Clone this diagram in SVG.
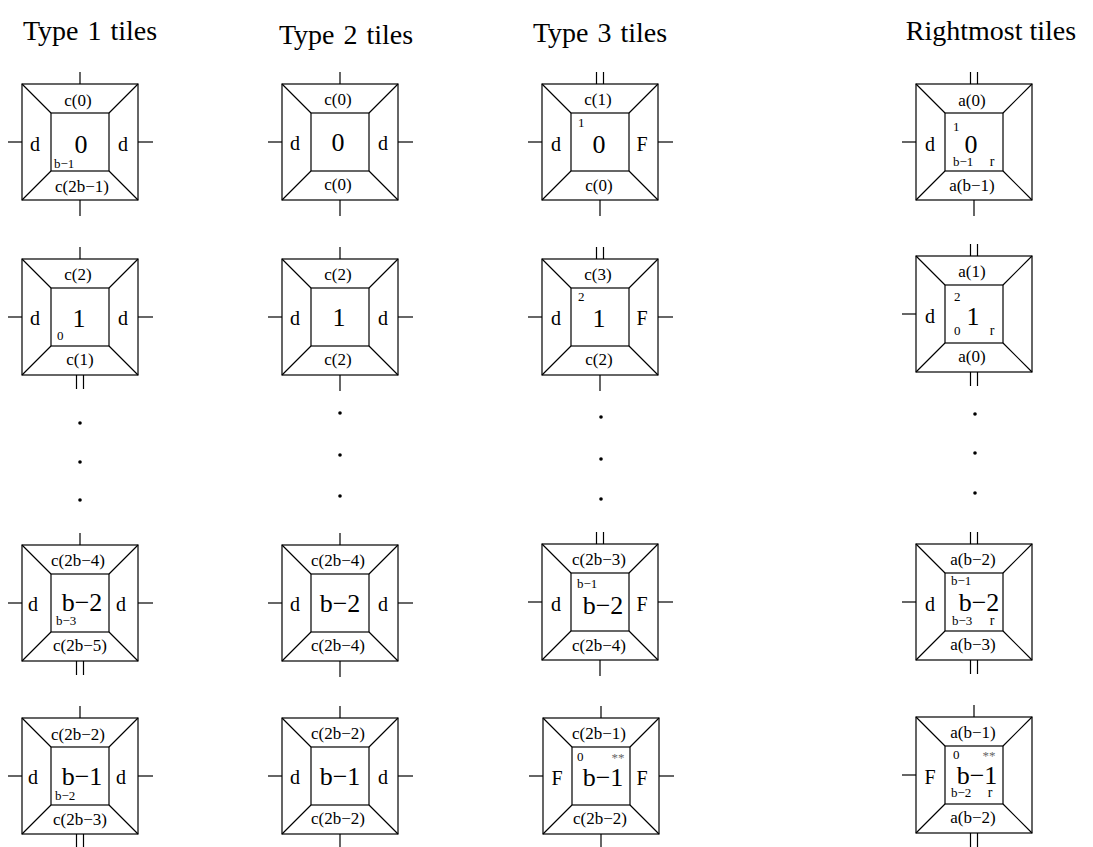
<svg xmlns="http://www.w3.org/2000/svg" xmlns:xlink="http://www.w3.org/1999/xlink" width="1093" height="847" viewBox="0 0 1093 847">
  <style>
    .ln { fill: none; stroke: #000; stroke-width: 1.2; }
    text { font-family: "Liberation Serif", "Times New Roman", serif; fill: #000; }
    .title { font-size: 28px; text-anchor: middle; }
    .wide { word-spacing: 2px; }
    .edge { font-size: 17px; text-anchor: middle; }
    .side { font-size: 20px; text-anchor: middle; }
    .big { font-size: 26px; text-anchor: middle; }
    .sm { font-size: 13px; }
    .r { font-size: 14px; text-anchor: middle; }
    .ast { font-size: 13px; text-anchor: middle; fill: #666; }
    .dot { fill: #000; }
  </style>
  <defs>
    <!-- tile frame: outer square, inner square, corner diagonals -->
    <g id="frame" class="ln">
      <rect x="-58" y="-58" width="116" height="116"/>
      <rect x="-29" y="-29" width="58" height="58"/>
      <path d="M-58,-58 L-29,-29 M58,-58 L29,-29 M-58,58 L-29,29 M58,58 L29,29"/>
    </g>
    <!-- glue stubs -->
    <path id="t1" class="ln" d="M0,-58 V-70"/>
    <path id="t2" class="ln" d="M-3.5,-58 V-70 M3.5,-58 V-70"/>
    <path id="b1" class="ln" d="M0,58 V74"/>
    <path id="b2" class="ln" d="M-3.5,58 V72 M3.5,58 V72"/>
    <path id="l1" class="ln" d="M-58,0 H-72"/>
    <path id="r1" class="ln" d="M58,0 H73"/>
  </defs>

  <!-- column headings -->
  <text class="title wide" x="90" y="40">Type 1 tiles</text>
  <text class="title wide" x="346" y="44">Type 2 tiles</text>
  <text class="title wide" x="600" y="42">Type 3 tiles</text>
  <text class="title" x="991" y="40">Rightmost tiles</text>

  <!-- ===== Type 1 column ===== -->
  <g id="t1-0" transform="translate(80,142)">
    <use xlink:href="#frame"/><use xlink:href="#t1"/><use xlink:href="#b1"/><use xlink:href="#l1"/><use xlink:href="#r1"/>
    <text class="edge" x="-2" y="-36">c(0)</text>
    <text class="edge" x="2" y="50">c(2b−1)</text>
    <text class="side" x="-45" y="9">d</text>
    <text class="side" x="43" y="9">d</text>
    <text class="big" x="1" y="11">0</text>
    <text class="sm" x="-26" y="26">b−1</text>
  </g>
  <g id="t1-1" transform="translate(80,317)">
    <use xlink:href="#frame"/><use xlink:href="#t1"/><use xlink:href="#b2"/><use xlink:href="#l1"/><use xlink:href="#r1"/>
    <text class="edge" x="-2" y="-37">c(2)</text>
    <text class="edge" x="0" y="48">c(1)</text>
    <text class="side" x="-45" y="8">d</text>
    <text class="side" x="43" y="8">d</text>
    <text class="big" x="-1" y="10">1</text>
    <text class="sm" x="-23" y="23">0</text>
  </g>
  <g id="t1-dots">
    <circle class="dot" cx="80" cy="423" r="1.8"/>
    <circle class="dot" cx="80" cy="462" r="1.8"/>
    <circle class="dot" cx="80" cy="500" r="1.8"/>
  </g>
  <g id="t1-b2" transform="translate(80,603)">
    <use xlink:href="#frame"/><use xlink:href="#t1"/><use xlink:href="#b2"/><use xlink:href="#l1"/><use xlink:href="#r1"/>
    <text class="edge" x="-2" y="-37">c(2b−4)</text>
    <text class="edge" x="0" y="48">c(2b−5)</text>
    <text class="side" x="-47" y="8">d</text>
    <text class="side" x="41" y="8">d</text>
    <text class="big" x="2" y="8">b−2</text>
    <text class="sm" x="-24" y="22">b−3</text>
  </g>
  <g id="t1-b1" transform="translate(80,776)">
    <use xlink:href="#frame"/><use xlink:href="#t1"/><use xlink:href="#b2"/><use xlink:href="#l1"/><use xlink:href="#r1"/>
    <text class="edge" x="-2" y="-36">c(2b−2)</text>
    <text class="edge" x="0" y="49">c(2b−3)</text>
    <text class="side" x="-47" y="8">d</text>
    <text class="side" x="41" y="8">d</text>
    <text class="big" x="2" y="9">b−1</text>
    <text class="sm" x="-25" y="24">b−2</text>
  </g>

  <!-- ===== Type 2 column ===== -->
  <g id="t2-0" transform="translate(340,142)">
    <use xlink:href="#frame"/><use xlink:href="#t1"/><use xlink:href="#b1"/><use xlink:href="#l1"/><use xlink:href="#r1"/>
    <text class="edge" x="-2" y="-37">c(0)</text>
    <text class="edge" x="-2" y="48">c(0)</text>
    <text class="side" x="-45" y="8">d</text>
    <text class="side" x="43" y="8">d</text>
    <text class="big" x="-2" y="9">0</text>
  </g>
  <g id="t2-1" transform="translate(340,317)">
    <use xlink:href="#frame"/><use xlink:href="#t1"/><use xlink:href="#b1"/><use xlink:href="#l1"/><use xlink:href="#r1"/>
    <text class="edge" x="-2" y="-37">c(2)</text>
    <text class="edge" x="-2" y="48">c(2)</text>
    <text class="side" x="-45" y="8">d</text>
    <text class="side" x="43" y="8">d</text>
    <text class="big" x="-1" y="9">1</text>
  </g>
  <g id="t2-dots">
    <circle class="dot" cx="340" cy="413" r="1.8"/>
    <circle class="dot" cx="340" cy="455" r="1.8"/>
    <circle class="dot" cx="340" cy="496" r="1.8"/>
  </g>
  <g id="t2-b2" transform="translate(340,603)">
    <use xlink:href="#frame"/><use xlink:href="#t1"/><use xlink:href="#b1"/><use xlink:href="#l1"/><use xlink:href="#r1"/>
    <text class="edge" x="-2" y="-37">c(2b−4)</text>
    <text class="edge" x="-2" y="48">c(2b−4)</text>
    <text class="side" x="-45" y="8">d</text>
    <text class="side" x="43" y="8">d</text>
    <text class="big" x="0" y="9">b−2</text>
  </g>
  <g id="t2-b1" transform="translate(340,776)">
    <use xlink:href="#frame"/><use xlink:href="#t1"/><use xlink:href="#b1"/><use xlink:href="#l1"/><use xlink:href="#r1"/>
    <text class="edge" x="-2" y="-37">c(2b−2)</text>
    <text class="edge" x="-2" y="48">c(2b−2)</text>
    <text class="side" x="-45" y="8">d</text>
    <text class="side" x="43" y="8">d</text>
    <text class="big" x="0" y="9">b−1</text>
  </g>

  <!-- ===== Type 3 column ===== -->
  <g id="t3-0" transform="translate(600,142)">
    <use xlink:href="#frame"/><use xlink:href="#t2"/><use xlink:href="#b1"/><use xlink:href="#l1"/><use xlink:href="#r1"/>
    <text class="edge" x="-2" y="-37">c(1)</text>
    <text class="edge" x="-1" y="49">c(0)</text>
    <text class="side" x="-44" y="9">d</text>
    <text class="side" x="42" y="9">F</text>
    <text class="big" x="-1" y="11">0</text>
    <text class="sm" x="-22" y="-15">1</text>
  </g>
  <g id="t3-1" transform="translate(600,317)">
    <use xlink:href="#frame"/><use xlink:href="#t2"/><use xlink:href="#b1"/><use xlink:href="#l1"/><use xlink:href="#r1"/>
    <text class="edge" x="-2" y="-37">c(3)</text>
    <text class="edge" x="-1" y="48">c(2)</text>
    <text class="side" x="-44" y="8">d</text>
    <text class="side" x="42" y="8">F</text>
    <text class="big" x="-1" y="10">1</text>
    <text class="sm" x="-22" y="-16">2</text>
  </g>
  <g id="t3-dots">
    <circle class="dot" cx="601" cy="417" r="1.8"/>
    <circle class="dot" cx="601" cy="459" r="1.8"/>
    <circle class="dot" cx="601" cy="499" r="1.8"/>
  </g>
  <g id="t3-b2" transform="translate(600,602)">
    <use xlink:href="#frame"/><use xlink:href="#t2"/><use xlink:href="#b1"/><use xlink:href="#l1"/><use xlink:href="#r1"/>
    <text class="edge" x="-1" y="-37">c(2b−3)</text>
    <text class="edge" x="-1" y="49">c(2b−4)</text>
    <text class="side" x="-44" y="9">d</text>
    <text class="side" x="42" y="9">F</text>
    <text class="big" x="3" y="12">b−2</text>
    <text class="sm" x="-23" y="-14">b−1</text>
  </g>
  <g id="t3-b1" transform="translate(601,776)">
    <use xlink:href="#frame"/><use xlink:href="#t1"/><use xlink:href="#b1"/><use xlink:href="#l1"/><use xlink:href="#r1"/>
    <text class="edge" x="-2" y="-37">c(2b−1)</text>
    <text class="edge" x="-1" y="48">c(2b−2)</text>
    <text class="side" x="-44" y="9">F</text>
    <text class="side" x="41" y="9">F</text>
    <text class="big" x="2" y="10">b−1</text>
    <text class="sm" x="-24" y="-15">0</text>
    <text class="ast" x="17" y="-14">**</text>
  </g>

  <!-- ===== Rightmost column ===== -->
  <g id="r-0" transform="translate(974,142)">
    <use xlink:href="#frame"/><use xlink:href="#t2"/><use xlink:href="#b1"/><use xlink:href="#l1"/>
    <text class="edge" x="-2" y="-36">a(0)</text>
    <text class="edge" x="-2" y="49">a(b−1)</text>
    <text class="side" x="-44" y="9">d</text>
    <text class="big" x="-3" y="11">0</text>
    <text class="sm" x="-21" y="-11">1</text>
    <text class="sm" x="-21" y="24">b−1</text>
    <text class="r" x="18" y="24">r</text>
  </g>
  <g id="r-1" transform="translate(974,314)">
    <use xlink:href="#frame"/><use xlink:href="#t2"/><use xlink:href="#b2"/><use xlink:href="#l1"/>
    <text class="edge" x="-2" y="-37">a(1)</text>
    <text class="edge" x="-2" y="48">a(0)</text>
    <text class="side" x="-44" y="9">d</text>
    <text class="big" x="-1" y="11">1</text>
    <text class="sm" x="-20" y="-13">2</text>
    <text class="sm" x="-20" y="21">0</text>
    <text class="r" x="18" y="21">r</text>
  </g>
  <g id="r-dots">
    <circle class="dot" cx="975" cy="414" r="1.8"/>
    <circle class="dot" cx="975" cy="453" r="1.8"/>
    <circle class="dot" cx="975" cy="493" r="1.8"/>
  </g>
  <g id="r-b2" transform="translate(974,602)">
    <use xlink:href="#frame"/><use xlink:href="#t2"/><use xlink:href="#b2"/><use xlink:href="#l1"/>
    <text class="edge" x="-1" y="-37">a(b−2)</text>
    <text class="edge" x="-1" y="48">a(b−3)</text>
    <text class="side" x="-44" y="9">d</text>
    <text class="big" x="5" y="9">b−2</text>
    <text class="sm" x="-23" y="-17">b−1</text>
    <text class="sm" x="-22" y="23">b−3</text>
    <text class="r" x="18" y="23">r</text>
  </g>
  <g id="r-b1" transform="translate(974,775)">
    <use xlink:href="#frame"/><use xlink:href="#t1"/><use xlink:href="#b2"/><use xlink:href="#l1"/>
    <text class="edge" x="-1" y="-37">a(b−1)</text>
    <text class="edge" x="-1" y="48">a(b−2)</text>
    <text class="side" x="-44" y="9">F</text>
    <text class="big" x="3" y="9">b−1</text>
    <text class="sm" x="-21" y="-16">0</text>
    <text class="ast" x="15" y="-15">**</text>
    <text class="sm" x="-23" y="22">b−2</text>
    <text class="r" x="16" y="22">r</text>
  </g>
</svg>
